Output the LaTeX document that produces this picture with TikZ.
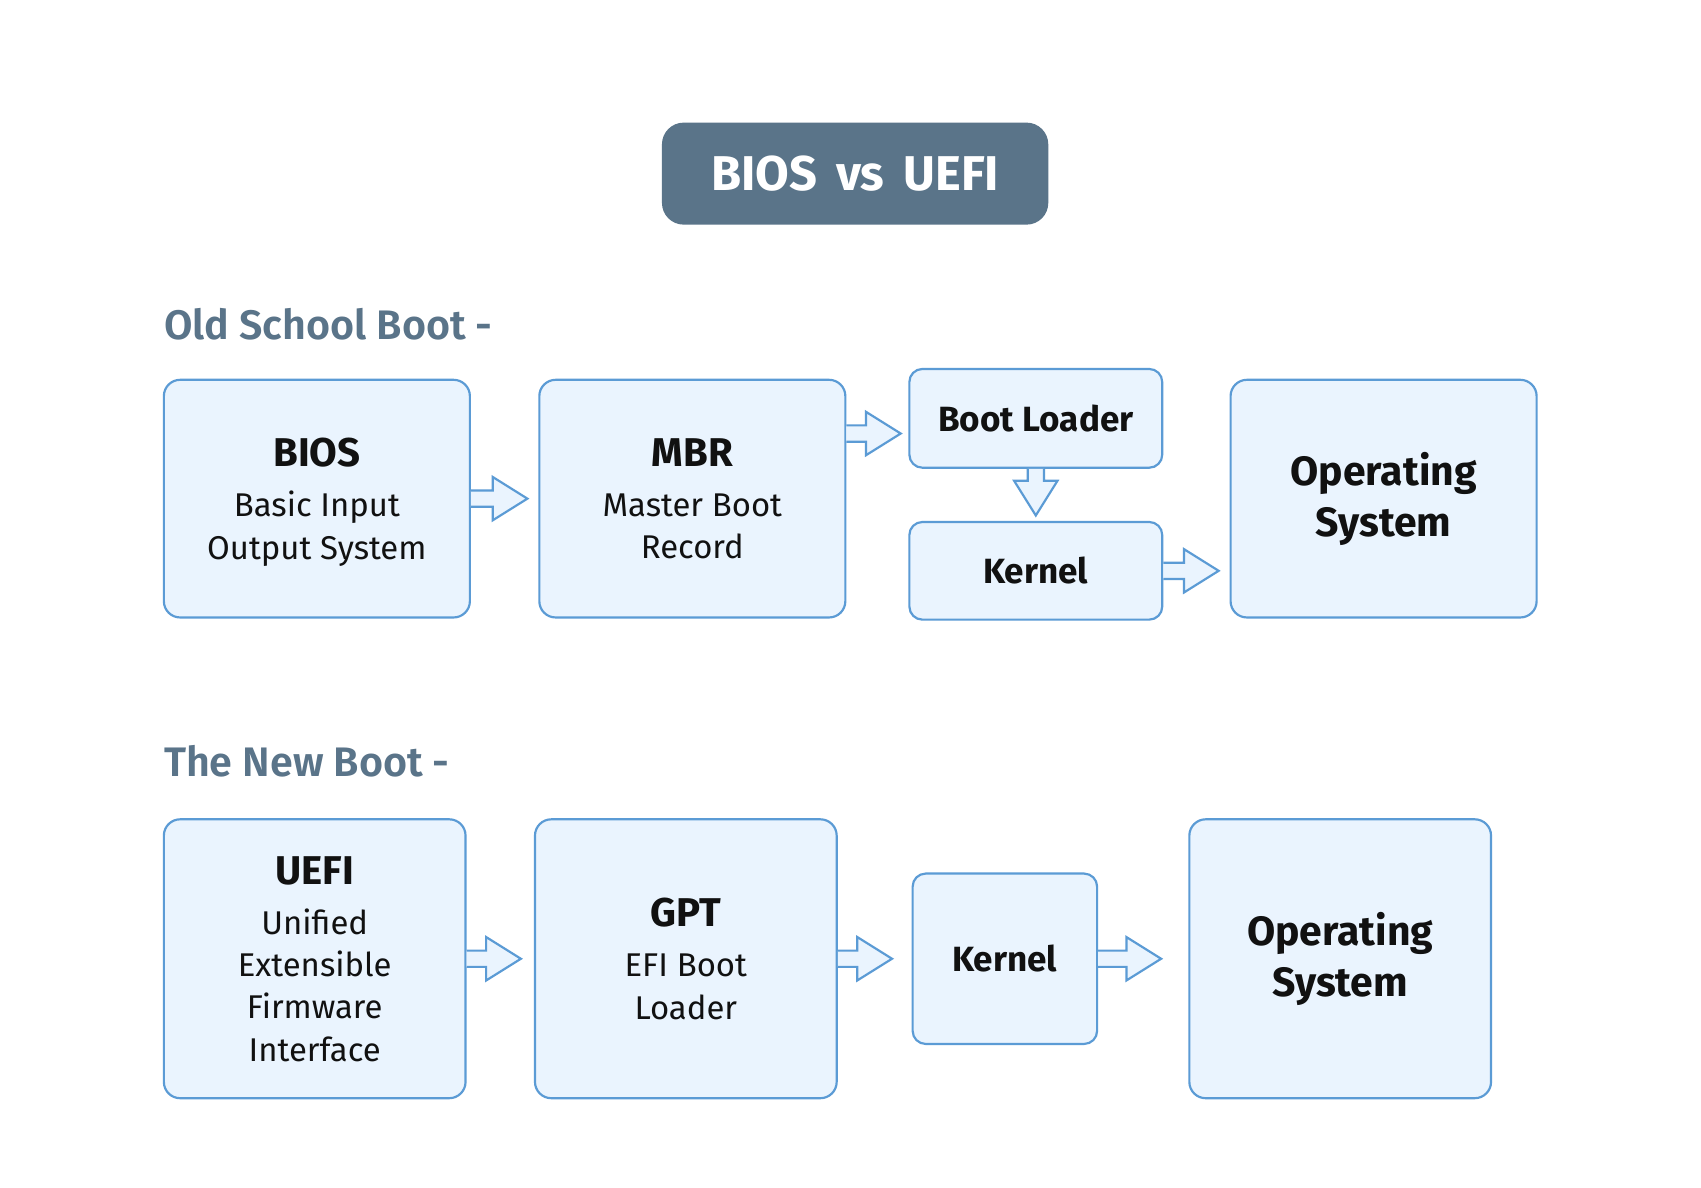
\documentclass[tikz,border=0pt]{standalone}
\usepackage{fontspec}
\setmainfont{Fira Sans}
\newfontfamily\semifont{Fira Sans SemiBold}
\usepackage{tikz}
\usetikzlibrary{positioning,calc}

\definecolor{slate}{HTML}{5A7489}
\definecolor{boxline}{HTML}{5B9BD5}
\definecolor{boxfill}{HTML}{EAF4FE}
\definecolor{ink}{HTML}{111111}

\newcommand{\titlefont}{\fontsize{37}{44}\selectfont\bfseries}
\newcommand{\descfont}{\fontsize{30.3}{39}\selectfont}
\newcommand{\stepfont}{\fontsize{32.3}{38}\selectfont\bfseries}
\newcommand{\osfont}{\fontsize{37.7}{47}\selectfont\bfseries}

% hollow block arrows: start point, tip point
\newcommand{\harrow}[2]{%
  \draw[flowarrow] let \p1=(#1), \p2=(#2) in
    (\x1,\y1+7.5pt) -- (\x2-32pt,\y1+7.5pt) -- (\x2-32pt,\y1+20pt) -- (\x2,\y1)
    -- (\x2-32pt,\y1-20pt) -- (\x2-32pt,\y1-7.5pt) -- (\x1,\y1-7.5pt);}
\newcommand{\varrow}[2]{%
  \draw[flowarrow] let \p1=(#1), \p2=(#2) in
    (\x1-7.5pt,\y1) -- (\x1-7.5pt,\y2+32pt) -- (\x1-20pt,\y2+32pt) -- (\x1,\y2)
    -- (\x1+20pt,\y2+32pt) -- (\x1+7.5pt,\y2+32pt) -- (\x1+7.5pt,\y1);}

\tikzset{
  bootbox/.style={draw=boxline, fill=boxfill, line width=2pt, rounded corners=15pt,
    align=center, inner sep=0pt, text=ink},
  bigbox/.style={bootbox, minimum width=282pt, minimum height=219pt},
  tallbox/.style={bootbox, minimum width=278pt, minimum height=257pt},
  descbox/.style={font=\descfont, text depth=0pt},
  flowarrow/.style={draw=boxline, fill=boxfill, line width=2pt, line join=miter},
  heading/.style={text=slate, font=\fontsize{38}{46}\selectfont\semifont, inner sep=0pt},
}

\begin{document}
\begin{tikzpicture}[x=1pt, y=-1pt]
    \fill [white] (0,0) rectangle (1567.5,1094.7);
    \useasboundingbox (0,0) rectangle (1567.5,1094.7);

    % Title
    \node [fill=slate, rounded corners=20pt, minimum width=356pt, minimum height=94pt,
      text=white, font=\fontsize{45}{52}\selectfont\bfseries] (title) at (788,160) {BIOS\hspace{7pt} vs\hspace{7pt} UEFI};

    % Old school boot
    \node [heading, anchor=base west] (oldhead) at (151,313) {Old School Boot -};
    \node [bigbox, descbox] (bios) at (292,459.5) {{\titlefont BIOS}\\[7pt]Basic Input\\Output System};
    \node [bigbox, descbox] (mbr) at (638,459.5) {{\titlefont MBR}\\[7pt]Master Boot\\Record};
    \node [bootbox, minimum width=233pt, minimum height=91pt, font=\stepfont, rounded corners=12pt] (loader) at (954.5,385.5) {Boot Loader};
    \node [bootbox, minimum width=233pt, minimum height=90pt, font=\stepfont, rounded corners=12pt] (kernold) at (954.5,526) {Kernel};
    \node [bigbox, font=\osfont] (osold) at (1275,459.5) {Operating\\System};

    \harrow{bios.east}{$(mbr.west)+(-10,0)$}
    \harrow{$(mbr.east |- loader.west)+(0,14)$}{$(loader.west)+(-7,0)$}
    \varrow{loader.south}{$(kernold.north)+(0,-5)$}
    \harrow{kernold.east}{$(osold.west)+(-10,0)$}

    % The new boot
    \node [heading, anchor=base west] (newhead) at (151,716) {The New Boot -};
    \node [tallbox, descbox] (uefi) at (290,883.5) {{\titlefont UEFI}\\[7pt]Unified\\Extensible\\Firmware\\Interface};
    \node [tallbox, descbox] (gpt) at (632,883.5) {{\titlefont GPT}\\[7pt]EFI Boot\\Loader};
    \node [bootbox, minimum width=170pt, minimum height=157pt, font=\stepfont, rounded corners=12pt] (kernnew) at (926,883.5) {Kernel};
    \node [tallbox, font=\osfont] (osnew) at (1235,883.5) {Operating\\System};

    \foreach \src/\dst/\gap in {uefi/gpt/12, gpt/kernnew/18, kernnew/osnew/25} {
        \harrow{\src.east}{$(\dst.west)+(-\gap,0)$}
    }
\end{tikzpicture}
\end{document}
